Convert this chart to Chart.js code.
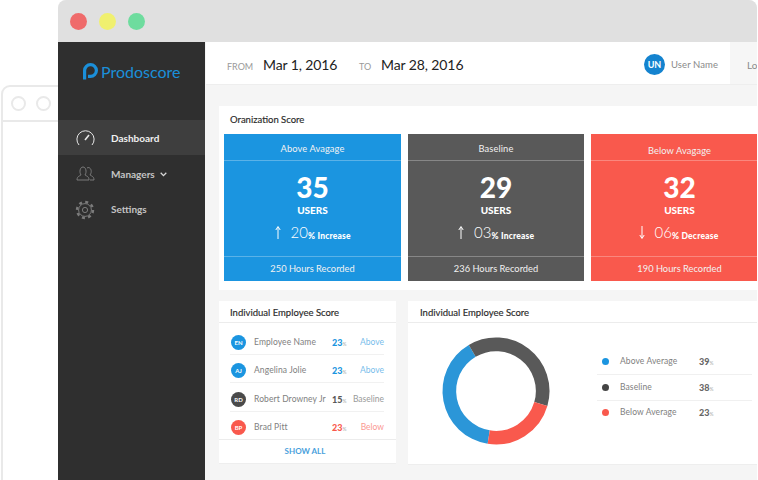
<!DOCTYPE html>
<html>
<head>
<meta charset="utf-8">
<title>Prodoscore</title>
<script src="https://cdn.jsdelivr.net/npm/chart.js@4"></script>
<style>
html, body { margin: 0; padding: 0; background: #fff; }
#stage { position: relative; width: 758px; height: 480px; overflow: hidden; font-family: Lato, "Open Sans", sans-serif; color: #333; }
#stage div, #stage span { white-space: nowrap; }
.box { position: absolute; }
.t { position: absolute; line-height: 1; }
.c { transform: translateX(-50%); }
.r { transform: translateX(-100%); }
.dot { position: absolute; border-radius: 50%; }
.line { position: absolute; height: 1px; }
.av { position: absolute; width: 15px; height: 15px; border-radius: 50%; color: #fff; font-size: 6px; font-weight: 700; line-height: 15px; text-align: center; }
.head { font-size: 9.5px; color: #2a2a2a; -webkit-text-stroke: .15px #2a2a2a; }
svg { position: absolute; overflow: visible; }
canvas { position: absolute; }
</style>
</head>
<body>
<div id="stage">
  <!-- window behind -->
  <div class="box" style="left:1px;top:85px;width:80px;height:420px;border:2px solid #e9e9e9;border-radius:9px;"></div>
  <div class="box" style="left:2px;top:120px;width:60px;height:2px;background:#e9e9e9;"></div>
  <div class="dot" style="left:11px;top:96px;width:11px;height:11px;border:2px solid #e9e9e9;"></div>
  <div class="dot" style="left:36px;top:96px;width:11px;height:11px;border:2px solid #e9e9e9;"></div>

  <!-- main window -->
  <div class="box" style="left:58px;top:0;width:699px;height:480px;background:#f5f5f5;border-radius:8px 8px 0 0;overflow:hidden;">
    <div class="box" style="left:0;top:0;width:699px;height:42px;background:#e0e0e0;"></div>
  </div>
  <div class="dot" style="left:70px;top:13px;width:17px;height:17px;background:#ef6b6b;"></div>
  <div class="dot" style="left:99px;top:13px;width:17px;height:17px;background:#f0f06f;"></div>
  <div class="dot" style="left:128px;top:13px;width:17px;height:17px;background:#6edc9e;"></div>

  <!-- sidebar -->
  <div class="box" style="left:58px;top:42px;width:147px;height:438px;background:#2f2f2f;"></div>
  <div class="box" style="left:58px;top:120px;width:147px;height:35px;background:#3e3e3e;"></div>
  <svg style="left:83px;top:63px;" width="15" height="17" viewBox="0 0 15 17">
    <path d="M1.6 16.5 V7.5 a5.9 5.9 0 1 1 5.9 5.9 H5" fill="none" stroke="#1b8fd9" stroke-width="3.2"/>
    <circle cx="7.5" cy="7.5" r="1.6" fill="#2f2f2f"/>
  </svg>
  <div class="t" style="left:101px;top:64px;font-size:16px;color:#1b8fd9;">Prodoscore</div>
  <svg style="left:76px;top:130px;" width="19" height="16" viewBox="0 0 19 16">
    <path d="M3 15 A8.6 8.6 0 1 1 16 15" fill="none" stroke="#e8e8e8" stroke-width="1"/>
    <path d="M9 10 L13 5" stroke="#e8e8e8" stroke-width="1.6"/>
  </svg>
  <svg style="left:76px;top:166px;" width="19" height="15" viewBox="0 0 19 15">
    <path d="M1 14 C1 10 4 10 5 9 C3 6 4 1 7 1 C10 1 11 6 9 9 C10 10 13 10 13 14 Z" fill="none" stroke="#7b7b7b" stroke-width="1"/>
    <path d="M11 2 C14 0 17 5 14 9 C15 10 18 10 18 14 H14" fill="none" stroke="#7b7b7b" stroke-width="1"/>
  </svg>
  <svg style="left:76px;top:201px;" width="18" height="18" viewBox="0 0 18 18">
    <circle cx="9" cy="9" r="2.6" fill="none" stroke="#7b7b7b" stroke-width="1"/>
    <circle cx="9" cy="9" r="6.4" fill="none" stroke="#7b7b7b" stroke-width="1"/>
    <circle cx="9" cy="9" r="8" fill="none" stroke="#7b7b7b" stroke-width="2.4" stroke-dasharray="3 3.28"/>
  </svg>
  <div class="t" style="left:111px;top:133px;font-size:10px;font-weight:700;color:#f0f0f0;">Dashboard</div>
  <div class="t" style="left:111px;top:169px;font-size:10px;font-weight:700;color:#c4c4c4;">Managers</div>
  <svg style="left:160px;top:172px;" width="7" height="5" viewBox="0 0 7 5"><path d="M.7 .8 L3.5 3.6 L6.3 .8" fill="none" stroke="#d8d8d8" stroke-width="1.3"/></svg>
  <div class="t" style="left:111px;top:204px;font-size:10px;font-weight:700;color:#c4c4c4;">Settings</div>

  <!-- top bar -->
  <div class="box" style="left:206px;top:42px;width:552px;height:42px;background:#fff;border-bottom:1px solid #eee;"></div>
  <div class="box" style="left:730px;top:42px;width:28px;height:42px;background:#f6f6f6;"></div>
  <div class="t" style="left:227px;top:62px;font-size:9px;color:#9a9a9a;">FROM</div>
  <div class="t" style="left:263px;top:58px;font-size:14px;color:#222;letter-spacing:-.1px;">Mar 1, 2016</div>
  <div class="t" style="left:359px;top:62px;font-size:9px;color:#9a9a9a;">TO</div>
  <div class="t" style="left:381px;top:58px;font-size:14px;color:#222;letter-spacing:-.1px;">Mar 28, 2016</div>
  <div class="dot" style="left:644px;top:54px;width:21px;height:21px;background:#1483cf;color:#fff;font-size:9px;font-weight:700;line-height:21px;text-align:center;">UN</div>
  <div class="t" style="left:671px;top:60px;font-size:9.5px;color:#8a8a8a;letter-spacing:.1px;">User Name</div>
  <div class="t" style="left:747px;top:60px;font-size:10px;color:#8a8a8a;">Logout</div>

  <!-- organization score -->
  <div class="box" style="left:219px;top:106px;width:539px;height:184px;background:#fff;"></div>
  <div class="t head" style="left:230px;top:115px;">Oranization Score</div>
  <div id="cards"></div>

  <!-- employee list -->
  <div class="box" style="left:219px;top:301px;width:177px;height:162px;background:#fff;border-bottom:1px solid #eee;"></div>
  <div class="line" style="left:219px;top:322px;width:177px;background:#ececec;"></div>
  <div class="t head" style="left:230px;top:308px;">Individual Employee Score</div>
  <div id="rows"></div>
  <div class="line" style="left:219px;top:439px;width:177px;background:#ececec;"></div>
  <div class="t c" style="left:305px;top:447px;font-size:8px;color:#4a9fdc;font-weight:700;">SHOW ALL</div>

  <!-- donut panel -->
  <div class="box" style="left:408px;top:301px;width:350px;height:163px;background:#fff;border-bottom:1px solid #eee;"></div>
  <div class="line" style="left:408px;top:322px;width:350px;background:#ececec;"></div>
  <div class="t head" style="left:420px;top:308px;">Individual Employee Score</div>
  <canvas id="donut" width="120" height="120" style="left:436px;top:331px;width:120px;height:120px;"></canvas>
  <div id="legend"></div>

  <div class="box" style="left:757px;top:0;width:1px;height:480px;background:#fff;"></div>
</div>

<script>
/* ── Data ── */
const cardTitles  = ['Above Avagage', 'Baseline', 'Below Avagage'];
const cardUsers   = ['35', '29', '32'];
const cardPercent = ['20', '03', '06'];
const cardTrend   = ['Increase', 'Increase', 'Decrease'];
const cardHours   = ['250 Hours Recorded', '236 Hours Recorded', '190 Hours Recorded'];

const empInitials = ['EN', 'AJ', 'RD', 'BP'];
const empNames    = ['Employee Name', 'Angelina Jolie', 'Robert Drowney Jr', 'Brad Pitt'];
const empScores   = ['23', '23', '15', '23'];
const empStatus   = ['Above', 'Above', 'Baseline', 'Below'];

const donutLabels = ['Above Average', 'Baseline', 'Below Average'];
const donutValues = [39, 38, 23];

/* ── Colours ── */
const BLUE = '#1b95e0', GREY = '#595959', RED = '#f9594d';

/* ── Cards ── */
const cardLeft  = [224, 408, 591];
const cardWidth = [177, 176, 167];
const cardColor = [BLUE, GREY, RED];
const cardMid   = [312.5, 496, 679.5];
const cardShift = [0, 0, -3];
document.getElementById('cards').innerHTML = cardTitles.map((title, i) => {
  const m = cardMid[i];
  const s = m + cardShift[i];
  const down = cardTrend[i] === 'Decrease';
  const titleTop = i === 2 ? 146 : 144;
  const arrow = down
    ? 'M3 0 V12 M.8 9 L3 12.5 L5.2 9'
    : 'M3 13 V1 M.8 4 L3 .5 L5.2 4';
  return `<div class="box" style="left:${cardLeft[i]}px;top:134px;width:${cardWidth[i]}px;height:147px;background:${cardColor[i]};"></div>
    <div class="line" style="left:${cardLeft[i]}px;top:160px;width:${cardWidth[i]}px;background:rgba(255,255,255,.28);"></div>
    <div class="line" style="left:${cardLeft[i]}px;top:256px;width:${cardWidth[i]}px;background:rgba(255,255,255,.28);"></div>
    <div class="t c" style="left:${m}px;top:${titleTop}px;font-size:9.3px;color:#f2f2f2;letter-spacing:.1px;">${title}</div>
    <div class="t c" style="left:${m}px;top:176px;font-size:28px;line-height:.8;font-weight:900;color:#fff;">${cardUsers[i]}</div>
    <div class="t c" style="left:${m}px;top:204.5px;font-size:10px;font-weight:900;color:#fff;">USERS</div>
    <svg style="left:${s - 38}px;top:226px;" width="6" height="13" viewBox="0 0 6 13"><path d="${arrow}" fill="none" stroke="#fff" stroke-width="1"/></svg>
    <div class="t" style="left:${s - 22}px;top:225px;font-size:15px;font-weight:300;color:#fff;">${cardPercent[i]}</div>
    <div class="t" style="left:${s - 4.5}px;top:232px;font-size:8.5px;font-weight:900;color:#fff;letter-spacing:.2px;">% ${cardTrend[i]}</div>
    <div class="t c" style="left:${m}px;top:264px;font-size:9.3px;color:#f2f2f2;">${cardHours[i]}</div>`;
}).join('');

/* ── Employee rows ── */
const statusColor = { Above: BLUE, Baseline: GREY, Below: RED };
const avatarColor = { Above: BLUE, Baseline: '#4a4a4a', Below: RED };
const rowMid = [342, 370, 399, 427];
document.getElementById('rows').innerHTML = empNames.map((name, i) => {
  const col = statusColor[empStatus[i]];
  const y = rowMid[i];
  const sep = i < 3 ? `<div class="line" style="left:230px;top:${y + 12}px;width:154px;background:#f1f1f1;"></div>` : '';
  return `<div class="av" style="left:231px;top:${y - 7.5}px;background:${avatarColor[empStatus[i]]};">${empInitials[i]}</div>
    <div class="t" style="left:254px;top:${y - 4.5}px;font-size:8.5px;color:#808080;letter-spacing:.1px;">${name}</div>
    <div class="t" style="left:332px;top:${y - 4.5}px;font-size:9px;font-weight:900;color:${col};">${empScores[i]}<span style="font-size:5px;font-weight:400;color:#aaa;">%</span></div>
    <div class="t r" style="left:384px;top:${y - 4.5}px;font-size:8.5px;color:${col};opacity:.62;">${empStatus[i]}</div>${sep}`;
}).join('');

/* ── Donut legend ── */
const legendMid = [361, 387, 412];
const legendDot = [BLUE, '#454545', RED];
document.getElementById('legend').innerHTML = donutLabels.map((label, i) => {
  const y = legendMid[i];
  const sep = i < 2 ? `<div class="line" style="left:597px;top:${y + 13}px;width:155px;background:#f0f0f0;"></div>` : '';
  return `<div class="dot" style="left:601.5px;top:${y - 3.5}px;width:7px;height:7px;background:${legendDot[i]};"></div>
    <div class="t" style="left:620px;top:${y - 4.5}px;font-size:8.5px;color:#808080;letter-spacing:.1px;">${label}</div>
    <div class="t" style="left:699px;top:${y - 4.5}px;font-size:9px;font-weight:900;color:#666;">${donutValues[i]}<span style="font-size:5px;font-weight:400;color:#aaa;">%</span></div>${sep}`;
}).join('');

/* ── Donut ── */
new Chart(document.getElementById('donut'), {
  type: 'doughnut',
  data: {
    labels: donutLabels,
    datasets: [{
      data: donutValues,
      backgroundColor: ['#2b96d8', GREY, RED],
      borderWidth: 0
    }]
  },
  options: {
    responsive: false,
    animation: false,
    rotation: 189,
    radius: 53.5,
    cutout: '74.5%',
    layout: { padding: 0 },
    plugins: { legend: { display: false }, tooltip: { enabled: false } }
  }
});
</script>
</body>
</html>
